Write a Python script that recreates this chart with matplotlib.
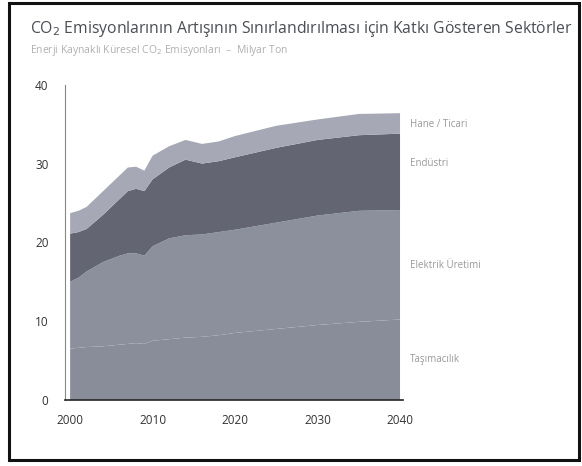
import matplotlib
matplotlib.use("Agg")
import matplotlib.pyplot as plt
from matplotlib.patches import Rectangle

plt.rcParams['font.family'] = ['Open Sans', 'DejaVu Sans']

# ----------------------------
# Veri (milyar ton)
# ----------------------------
years = [2000, 2001, 2002, 2004, 2006, 2007, 2008, 2009, 2010,
         2012, 2014, 2016, 2018, 2020, 2025, 2030, 2035, 2040]
tasimacilik = [6.5, 6.6, 6.7, 6.8, 7.0, 7.1, 7.2, 7.1, 7.5,
               7.7, 7.9, 8.0, 8.2, 8.5, 9.0, 9.5, 9.9, 10.2]
elektrik = [8.5, 8.9, 9.6, 10.7, 11.3, 11.5, 11.4, 11.2, 12.0,
            12.8, 13.0, 13.0, 13.1, 13.1, 13.5, 13.9, 14.1, 13.9]
endustri = [6.1, 5.8, 5.4, 6.0, 7.2, 7.9, 8.2, 8.2, 8.5,
            9.0, 9.6, 9.0, 9.0, 9.2, 9.5, 9.6, 9.6, 9.7]
hane = [2.6, 2.7, 2.8, 3.0, 3.0, 3.0, 2.8, 2.6, 3.0,
        2.7, 2.5, 2.5, 2.5, 2.7, 2.8, 2.6, 2.7, 2.6]

sectors = ["Taşımacılık", "Elektrik Üretimi", "Endüstri", "Hane / Ticari"]
label_y = [5.1, 17.1, 30.0, 34.9]
colors = ["#898d9a", "#8c909d", "#636672", "#a6a9b5"]

xticks = [2000, 2010, 2020, 2030, 2040]
yticks = [0, 10, 20, 30, 40]

# ----------------------------
# Çizim
# ----------------------------
fig = plt.figure(figsize=(5.82, 4.66), dpi=100)
fig.patch.set_facecolor("white")
ax = fig.add_axes([0.112, 0.142, 0.581, 0.676])

ax.stackplot(years, tasimacilik, elektrik, endustri, hane,
             colors=colors, linewidth=0)

ax.set_xlim(1999.4, 2040.4)
ax.set_ylim(0, 40)
ax.set_xticks(xticks)
ax.set_yticks(yticks)
ax.tick_params(length=0, labelsize=8.5, colors="#333333")
ax.tick_params(axis="x", pad=10)
ax.tick_params(axis="y", pad=12)

for s in ["top", "right"]:
    ax.spines[s].set_visible(False)
ax.spines["left"].set_color("#888888")
ax.spines["left"].set_linewidth(0.8)
ax.spines["bottom"].set_color("#222222")
ax.spines["bottom"].set_linewidth(1.2)

# sağdaki sektör etiketleri
for name, y in zip(sectors, label_y):
    ax.text(2041.2, y, name, fontsize=7, color="#999999",
            va="center", ha="left", clip_on=False)

# başlık ve alt başlık
fig.text(0.052, 0.937, "CO$_2$ Emisyonlarının Artışının Sınırlandırılması için Katkı Gösteren Sektörler",
         fontsize=11.3, color="#4a4e55", ha="left", va="center")
fig.text(0.052, 0.892, "Enerji Kaynaklı Küresel CO$_2$ Emisyonları  –  Milyar Ton",
         fontsize=7.5, color="#b0b0b0", ha="left", va="center")

# dış çerçeve
fig.patches.append(Rectangle((0.016, 0.012), 0.978, 0.982, transform=fig.transFigure,
                             fill=False, edgecolor="#111111", linewidth=2.2))

fig.savefig("out.png", dpi=100)
